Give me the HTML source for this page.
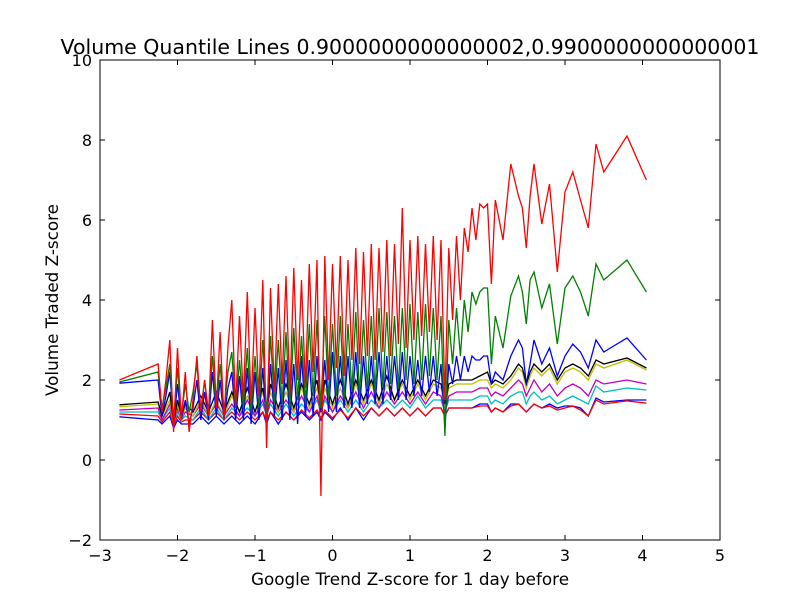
<!DOCTYPE html>
<html><head><meta charset="utf-8"><style>
body{margin:0;background:#fff}
svg{display:block;font-family:"DejaVu Sans","Liberation Sans",sans-serif}
</style></head><body>
<svg id="chart" width="800" height="600" viewBox="0 0 800 600" xmlns="http://www.w3.org/2000/svg">
<rect width="800" height="600" fill="#fff"/>
<text x="410" y="54" font-size="20.5" text-anchor="middle">Volume Quantile Lines 0.9000000000000002,0.9900000000000001</text>
<text x="410" y="585" font-size="16.8" text-anchor="middle">Google Trend Z-score for 1 day before</text>
<text transform="translate(58,300) rotate(-90)" font-size="16.8" text-anchor="middle">Volume Traded Z-score</text>
<g id="series"></g>
<g id="axes"></g>
<rect x="100" y="60" width="620" height="480" fill="none" stroke="#000" stroke-width="1"/>
</svg>
<script>
const xVals=[-2.75,-2.25,-2.2,-2.1,-2.05,-2.0,-1.95,-1.9,-1.8,-1.7,-1.6,-1.5,-1.4,-1.3,-1.2,-1.1,-1.0,-0.9,-0.85,-0.8,-0.7,-0.6,-0.5,-0.4,-0.3,-0.2,-0.15,-0.1,0.0,0.1,0.2,0.3,0.4,0.5,0.6,0.7,0.8,0.9,1.0,1.1,1.2,1.3,1.4,1.45,1.5,1.6,1.7,1.8,1.9,2.0,2.05,2.1,2.2,2.3,2.4,2.45,2.5,2.55,2.6,2.7,2.8,2.9,3.0,3.1,3.2,3.3,3.4,3.5,3.8,4.05];
const xDense=[-2.75,-2.25,-2.2,-2.15,-2.1,-2.05,-2.0,-1.95,-1.9,-1.85,-1.8,
-1.75,-1.7,-1.65,-1.6,-1.55,-1.5,-1.45,-1.4,-1.35,-1.3,-1.25,-1.2,-1.15,-1.1,-1.05,-1.0,-0.95,-0.9,-0.85,-0.8,-0.75,-0.7,-0.65,-0.6,-0.55,-0.5,-0.45,-0.4,-0.35,-0.3,-0.25,-0.2,-0.15,-0.1,-0.05,0.0,0.05,0.1,0.15,0.2,0.25,0.3,0.35,0.4,0.45,0.5,0.55,0.6,0.65,0.7,0.75,0.8,0.85,0.9,0.95,1.0,1.05,1.1,1.15,1.2,1.25,1.3,1.35,1.4,1.45,1.5,1.55,1.6,1.65,1.7,1.75,1.8,1.85,
1.9,1.95,2.0,2.05,2.1,2.2,2.3,2.4,2.45,2.5,2.55,2.6,2.7,2.8,2.9,3.0,3.1,3.2,3.3,3.4,3.5,3.8,4.05];
const blueLow=[1.08,1.0,0.9,1.1,0.8,1.0,0.9,0.9,0.9,1.1,0.9,1.1,0.9,1.1,0.9,1.1,0.9,1.2,0.9,1.2,0.9,1.2,1.0,1.2,1.0,1.2,1.0,1.2,1.0,1.3,1.0,1.3,1.0,1.3,1.1,1.3,1.1,1.3,1.1,1.3,1.1,1.3,1.3,1.1,1.3,1.3,1.3,1.3,1.4,1.4,1.2,1.3,1.2,1.4,1.4,1.3,1.2,1.3,1.4,1.3,1.4,1.3,1.35,1.35,1.3,1.1,1.55,1.45,1.5,1.5];
const redLow=[1.15,1.1,0.95,1.2,0.85,1.1,0.95,1.0,1.0,1.2,1.0,1.2,1.0,1.2,1.0,1.2,1.0,1.2,1.0,1.2,1.0,1.2,1.0,1.25,1.05,1.25,1.05,1.25,1.05,1.25,1.05,1.3,1.1,1.3,1.1,1.3,1.1,1.3,1.1,1.3,1.1,1.3,1.3,1.1,1.3,1.3,1.3,1.3,1.35,1.35,1.2,1.3,1.2,1.35,1.4,1.3,1.2,1.3,1.4,1.3,1.35,1.25,1.3,1.35,1.25,1.1,1.5,1.4,1.48,1.42];
const cyanQ=[1.2,1.2,1.0,1.3,0.9,1.2,1.0,1.1,1.0,1.3,1.0,1.3,1.0,1.3,1.1,1.3,1.1,1.4,1.1,1.4,1.1,1.4,1.1,1.4,1.2,1.5,1.2,1.5,1.2,1.5,1.2,1.5,1.2,1.5,1.3,1.5,1.3,1.5,1.3,1.6,1.3,1.5,1.5,1.2,1.5,1.5,1.5,1.5,1.6,1.6,1.4,1.5,1.4,1.6,1.7,1.7,1.4,1.6,1.7,1.5,1.6,1.4,1.5,1.6,1.5,1.4,1.85,1.7,1.8,1.75];
const magentaQ=[1.25,1.3,1.0,1.4,0.9,1.3,1.0,1.2,1.1,1.4,1.1,1.4,1.1,1.4,1.1,1.5,1.1,1.5,1.1,1.5,1.2,1.5,1.2,1.6,1.2,1.6,1.2,1.6,1.2,1.6,1.3,1.7,1.3,1.7,1.3,1.7,1.4,1.7,1.4,1.7,1.4,1.7,1.6,1.2,1.6,1.7,1.7,1.7,1.8,1.8,1.6,1.7,1.6,1.8,2.0,1.9,1.6,1.8,2.0,1.7,1.9,1.6,1.8,1.9,1.8,1.6,2.0,1.9,2.0,1.9];
const yellowQ=[1.33,1.4,1.1,1.5,0.9,1.4,1.0,1.3,1.1,1.5,1.1,1.5,1.1,1.6,1.2,1.6,1.2,1.7,1.2,1.7,1.2,1.7,1.2,1.8,1.3,1.8,1.3,1.8,1.3,1.8,1.3,1.9,1.4,1.9,1.4,1.9,1.5,1.9,1.5,1.9,1.5,1.9,1.8,1.3,1.8,1.9,1.9,1.9,2.0,2.0,1.8,1.9,1.8,2.0,2.3,2.2,1.8,2.1,2.3,2.1,2.3,1.9,2.2,2.3,2.2,2.0,2.4,2.3,2.5,2.25];
const blackQ=[1.38,1.45,1.1,1.7,0.9,1.5,1.1,1.4,1.2,1.6,1.2,1.7,1.2,1.7,1.2,1.8,1.2,1.8,1.2,1.9,1.3,1.9,1.3,1.9,1.4,2.0,1.3,2.0,1.4,2.0,1.4,2.0,1.5,2.0,1.5,2.1,1.5,2.0,1.6,2.0,1.6,2.0,1.9,1.4,1.9,2.0,2.0,2.0,2.1,2.2,1.9,2.0,1.9,2.1,2.4,2.3,1.9,2.2,2.4,2.2,2.4,2.0,2.3,2.4,2.3,2.1,2.5,2.4,2.55,2.3];
const blueHigh=[1.92,2.0,1.1,1.6,2.2,0.9,1.9,1.0,1.5,0.9,1.3,
2.0,1.0,1.7,1.0,2.2,1.1,2.0,1.0,1.8,2.2,
1.0,2.1,1.0,2.3,0.9,2.2,1.0,2.3,0.9,2.4,
1.1,2.3,1.0,2.5,1.0,2.4,0.9,2.6,1.1,2.5,
1.1,2.6,1.2,2.5,1.2,2.7,1.2,2.6,1.3,2.6,
1.3,2.7,1.3,2.6,1.4,2.6,1.4,2.7,1.4,2.6,
1.5,2.6,1.5,2.7,1.5,2.6,1.6,2.5,1.6,2.6,
1.7,2.6,1.6,2.4,0.8,2.4,1.9,2.6,2.0,2.6,
2.2,2.6,2.5,
2.5,2.6,2.6,1.9,2.2,2.0,2.6,3.0,2.8,1.9,2.4,3.0,2.4,2.8,2.1,2.6,2.9,2.7,2.3,3.0,2.7,3.05,2.5];
const greenQ=[1.95,2.2,1.3,1.8,2.4,1.0,2.3,1.1,1.9,1.2,1.7,
2.4,1.2,2.0,1.2,2.6,1.3,2.4,1.2,2.2,2.7,
1.3,2.5,1.3,2.8,1.2,2.6,1.3,3.0,1.1,3.1,
1.4,3.0,1.4,3.2,1.3,3.3,1.5,3.1,1.4,3.4,
1.6,3.5,1.3,3.6,1.5,3.4,1.6,3.6,1.5,3.4,
1.7,3.7,1.6,3.5,1.8,3.6,1.7,3.8,1.8,3.7,
1.9,3.6,1.8,3.8,2.0,3.9,1.9,3.7,2.0,3.9,
2.1,3.8,2.0,3.6,0.6,3.5,2.4,3.8,2.6,4.0,
3.2,4.2,3.9,
4.2,4.3,4.3,2.4,3.6,2.8,4.1,4.6,4.2,3.4,4.5,4.7,3.8,4.4,2.9,4.3,4.6,4.2,3.6,4.9,4.5,5.0,4.2];
const redHigh=[2.0,2.4,1.2,2.0,3.0,0.7,2.8,1.0,2.2,0.7,1.5,
2.6,1.2,2.0,1.1,3.5,1.3,3.2,1.0,2.8,4.0,
1.3,3.6,1.5,4.2,1.4,3.8,1.6,4.5,0.3,4.3,
1.7,4.4,1.9,4.6,1.6,4.8,2.0,4.5,1.8,4.9,
2.2,5.0,-0.9,5.1,2.0,4.9,2.3,5.1,2.1,5.0,
2.5,5.3,2.4,5.2,2.6,5.4,2.5,5.3,2.7,5.5,
2.6,5.4,2.9,6.3,2.8,5.5,3.0,5.6,3.1,5.4,
3.2,5.6,3.0,5.5,1.5,5.3,3.5,5.6,4.0,5.8,
5.2,6.3,5.5,
6.4,6.3,6.4,4.4,6.5,5.5,7.4,6.6,6.3,5.3,6.6,7.4,5.9,6.9,4.7,6.7,7.2,6.5,5.8,7.9,7.2,8.1,7.0];
const xTicks=[-3,-2,-1,0,1,2,3,4,5];
const yTicks=[-2,0,2,4,6,8,10];

const X0=100,X1=720,Y0=540,Y1=60;
function sx(v){return X0+(v-(-3))/(5-(-3))*(X1-X0);}
function sy(v){return Y0-(v-(-2))/(10-(-2))*(Y0-Y1);}
const NS='http://www.w3.org/2000/svg';
const sg=document.getElementById('series');
const seriesList=[[xVals,blueLow,'#0000ff','line-q-low-blue'],[xVals,redLow,'#ff0000','line-q-low-red'],[xVals,cyanQ,'#00bfbf','line-q-cyan'],[xVals,magentaQ,'#bf00bf','line-q-magenta'],[xVals,yellowQ,'#bfbf00','line-q-yellow'],[xVals,blackQ,'#000000','line-q-black'],[xDense,blueHigh,'#0000ff','line-q-blue'],[xDense,greenQ,'#008000','line-q-green'],[xDense,redHigh,'#ff0000','line-q-099-red']];
seriesList.forEach(function(s){
  const xs=s[0],ys=s[1];
  const n=Math.min(xs.length,ys.length);
  let d='';
  for(let i=0;i<n;i++){d+=(i?'L':'M')+sx(xs[i]).toFixed(1)+' '+sy(ys[i]).toFixed(1);}
  const p=document.createElementNS(NS,'path');
  p.setAttribute('d',d);p.setAttribute('fill','none');p.setAttribute('stroke',s[2]);p.setAttribute('stroke-width','1.3');
  
  
  sg.appendChild(p);
});
const ag=document.getElementById('axes');
xTicks.forEach(function(t){
  const x=sx(t);
  [[Y0,Y0-5],[Y1,Y1+5]].forEach(function(a){
    const l=document.createElementNS(NS,'line');
    l.setAttribute('x1',x);l.setAttribute('x2',x);l.setAttribute('y1',a[0]);l.setAttribute('y2',a[1]);l.setAttribute('stroke','#000');
    
    
    ag.appendChild(l);
  });
  const tx=document.createElementNS(NS,'text');
  tx.setAttribute('x',x);tx.setAttribute('y',Y0+21);tx.setAttribute('font-size','16');tx.setAttribute('text-anchor','middle');
  tx.textContent=(t<0?'\u2212'+(-t):String(t));
  
  
  ag.appendChild(tx);
});
yTicks.forEach(function(t){
  const y=sy(t);
  [[X0,X0+5],[X1,X1-5]].forEach(function(a){
    const l=document.createElementNS(NS,'line');
    l.setAttribute('y1',y);l.setAttribute('y2',y);l.setAttribute('x1',a[0]);l.setAttribute('x2',a[1]);l.setAttribute('stroke','#000');
    
    
    ag.appendChild(l);
  });
  const tx=document.createElementNS(NS,'text');
  tx.setAttribute('x',X0-8);tx.setAttribute('y',y+6);tx.setAttribute('font-size','16');tx.setAttribute('text-anchor','end');
  tx.textContent=(t<0?'\u2212'+(-t):String(t));
  
  
  ag.appendChild(tx);
});
</script>
</body></html>
